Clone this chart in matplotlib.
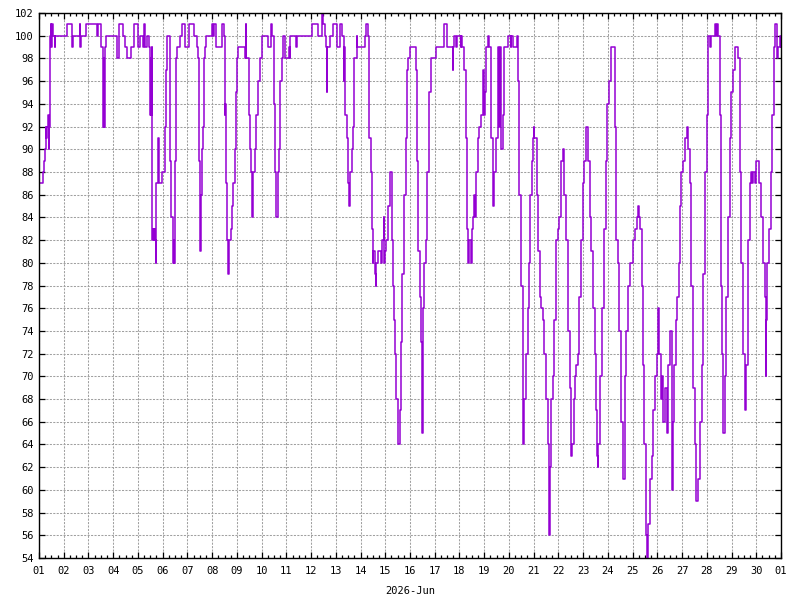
import matplotlib
matplotlib.use('Agg')
import matplotlib.pyplot as plt
from matplotlib.ticker import MultipleLocator, FixedLocator

# time in days since 2026-06-01 00:00, relative humidity (%)
t_days = [
    0.00, 0.17, 0.21, 0.24, 0.27, 0.30, 0.33, 0.36, 0.39, 0.42, 0.45, 0.48, 0.50, 0.52, 0.58, 0.63, 0.66,
    1.12, 1.32, 1.35, 1.37, 1.64, 1.67, 1.70, 1.91,
    2.33, 2.39, 2.49, 2.59, 2.62, 2.64, 2.66, 2.69,
    3.16, 3.23, 3.40, 3.46, 3.56, 3.72, 3.83, 3.86, 3.99,
    4.10, 4.20, 4.23, 4.26, 4.30, 4.37, 4.44, 4.48, 4.51, 4.53, 4.55, 4.57, 4.60, 4.63, 4.66, 4.70, 4.73,
    4.75, 4.80, 4.86, 4.97,
    5.08, 5.12, 5.15, 5.17, 5.28, 5.31, 5.35, 5.40, 5.43, 5.45, 5.46, 5.48, 5.52, 5.58, 5.69, 5.79, 5.89, 5.92,
    6.06, 6.28, 6.37, 6.41, 6.46, 6.50, 6.52, 6.53, 6.54, 6.60, 6.64, 6.68, 6.73, 6.77,
    7.00, 7.05, 7.07, 7.17, 7.38, 7.47, 7.51, 7.54, 7.58, 7.62, 7.66, 7.70, 7.75, 7.80, 7.86, 7.91, 7.95,
    8.01, 8.05, 8.34, 8.37, 8.38, 8.51, 8.55, 8.58, 8.61, 8.66, 8.72, 8.78, 8.85, 8.92,
    9.01, 9.25, 9.39, 9.43, 9.49, 9.55, 9.59, 9.65, 9.72, 9.76, 9.82, 9.87, 9.95,
    10.12, 10.14, 10.16, 10.39, 10.43,
    11.02, 11.29, 11.46, 11.50, 11.56, 11.61, 11.63, 11.65, 11.75, 11.88,
    12.05, 12.19, 12.26, 12.32, 12.34, 12.36, 12.39, 12.46, 12.50, 12.55, 12.59, 12.64, 12.69, 12.72,
    12.84, 12.86,
    13.18, 13.24, 13.30, 13.36, 13.41, 13.47, 13.49, 13.51, 13.58, 13.61, 13.64, 13.72, 13.81, 13.88,
    13.93, 13.95,
    14.00, 14.04, 14.12, 14.18, 14.26, 14.32, 14.35, 14.39, 14.45, 14.50, 14.58, 14.64, 14.69, 14.76,
    14.82, 14.88, 14.93, 14.99,
    15.23, 15.30, 15.34, 15.39, 15.45, 15.48, 15.50, 15.53, 15.57, 15.64, 15.70, 15.77, 15.84,
    16.04, 16.38, 16.51, 16.72, 16.75, 16.78, 16.85, 16.92,
    17.05, 17.08, 17.12, 17.19, 17.26, 17.31, 17.35, 17.39, 17.46, 17.50, 17.53, 17.57, 17.61, 17.66,
    17.73, 17.80, 17.86, 17.97, 17.99,
    18.03, 18.07, 18.14, 18.20, 18.27, 18.34, 18.37, 18.39, 18.41, 18.47, 18.54, 18.57, 18.59, 18.61,
    18.65, 18.66, 18.68, 18.74, 18.81, 18.95,
    19.08, 19.10, 19.15, 19.32, 19.38, 19.42, 19.49, 19.55, 19.58, 19.60, 19.69, 19.76, 19.80, 19.86,
    19.92, 19.97,
    20.00, 20.03, 20.14, 20.19, 20.24, 20.30, 20.36, 20.43, 20.50, 20.57, 20.61, 20.63, 20.65, 20.70,
    20.77, 20.84, 20.91, 20.97,
    21.04, 21.11, 21.18, 21.24, 21.31, 21.38, 21.45, 21.49, 21.51, 21.54, 21.62, 21.68, 21.72, 21.78,
    21.85, 21.92, 21.99,
    22.05, 22.12, 22.19, 22.26, 22.32, 22.39, 22.46, 22.53, 22.57, 22.59, 22.62, 22.70, 22.77, 22.84,
    22.91, 22.97,
    23.03, 23.11, 23.27, 23.34, 23.41, 23.47, 23.54, 23.61, 23.68, 23.74, 23.81, 23.88, 23.97,
    24.03, 24.10, 24.17, 24.22, 24.24, 24.30, 24.37, 24.44, 24.48, 24.53, 24.57, 24.64, 24.70, 24.77,
    24.84, 24.91, 24.97,
    25.04, 25.08, 25.13, 25.19, 25.24, 25.31, 25.38, 25.44, 25.51, 25.58, 25.62, 25.67, 25.75, 25.81,
    25.86, 25.91, 25.97,
    26.05, 26.11, 26.18, 26.26, 26.32, 26.38, 26.45, 26.52, 26.58, 26.65, 26.72, 26.79, 26.85, 26.92,
    26.99,
    27.05, 27.12, 27.19, 27.32, 27.38, 27.40, 27.46, 27.52, 27.56, 27.60, 27.66, 27.72, 27.79, 27.86,
    27.93, 27.99,
    28.06, 28.13, 28.26, 28.33, 28.40, 28.46, 28.53, 28.60, 28.66, 28.73, 28.80, 28.84, 28.87, 28.93,
    29.00, 29.13, 29.20, 29.27, 29.34, 29.38, 29.40, 29.44, 29.51, 29.58, 29.64, 29.70, 29.77, 29.83,
    29.89, 29.95, 30.00,
]
rh_pct = [
    87, 88, 89, 90, 92, 91, 92, 93, 90, 92, 100, 101, 99, 101, 100, 99, 100,
    101, 100, 99, 100, 101, 99, 100, 101,
    100, 101, 99, 92, 98, 92, 99, 100,
    98, 101, 100, 99, 98, 99, 100, 101, 99,
    100, 99, 100, 101, 99, 100, 99, 93, 98, 93, 99, 82, 83, 82, 83, 82, 80,
    87, 91, 87, 88,
    92, 95, 97, 100, 99, 89, 84, 82, 80, 82, 80, 89, 98, 99, 100, 101, 100, 99,
    101, 100, 99, 98, 89, 83, 81, 83, 86, 90, 92, 98, 99, 100,
    101, 100, 101, 99, 101, 100, 93, 94, 87, 82, 79, 82, 83, 85, 87, 90, 95,
    98, 99, 98, 101, 98, 93, 90, 88, 84, 88, 90, 93, 96, 98,
    100, 99, 101, 100, 94, 88, 84, 88, 90, 96, 98, 100, 98,
    99, 98, 100, 99, 100,
    101, 100, 102, 101, 100, 99, 95, 99, 100, 101,
    99, 101, 100, 96, 99, 94, 93, 91, 87, 85, 88, 90, 92, 98,
    100, 99,
    100, 101, 100, 91, 88, 83, 80, 81, 79, 78, 80, 81, 80, 82,
    84, 80,
    81, 82, 85, 88, 82, 78, 75, 72, 68, 64, 67, 73, 79, 86,
    91, 97, 98, 99,
    97, 89, 81, 77, 73, 68, 65, 76, 80, 82, 88, 95, 98,
    99, 101, 99, 97, 99, 100, 99, 100,
    99, 100, 99, 97, 91, 83, 80, 82, 80, 83, 84, 86, 84, 88,
    91, 92, 93, 97, 93,
    95, 99, 100, 99, 91, 87, 85, 87, 88, 91, 96, 99, 96, 92,
    99, 92, 90, 93, 99, 100,
    99, 100, 99, 100, 96, 86, 78, 70, 64, 68, 72, 76, 80, 86,
    89, 91,
    92, 91, 86, 81, 77, 76, 75, 72, 68, 64, 57, 56, 62, 68,
    70, 75, 82, 83,
    84, 89, 90, 86, 82, 74, 69, 64, 63, 64, 68, 70, 71, 72,
    77, 82, 87,
    89, 92, 89, 84, 81, 76, 72, 67, 63, 62, 64, 70, 76, 83,
    89, 94,
    96, 99, 92, 82, 80, 74, 66, 61, 70, 74, 78, 80, 80,
    82, 83, 84, 85, 84, 83, 78, 71, 64, 56, 54, 57, 61, 63,
    67, 70, 72,
    76, 72, 68, 70, 66, 69, 65, 71, 74, 60, 66, 71, 75, 77,
    80, 85, 88,
    89, 91, 92, 90, 87, 78, 69, 64, 59, 61, 66, 71, 79, 88,
    93,
    100, 99, 100, 101, 100, 101, 100, 93, 78, 72, 65, 70, 77, 84,
    91, 95,
    97, 99, 98, 88, 80, 72, 67, 71, 82, 87, 88, 87, 88, 87,
    89, 87, 84, 80, 77, 70, 75, 80, 83, 88, 93, 99, 101, 98,
    99, 100, 99,
]

day_labels = ['%02d' % d for d in range(1, 31)] + ['01']
y_ticks = list(range(54, 103, 2))

fig = plt.figure(figsize=(8, 6), dpi=100)
ax = fig.add_axes([39 / 800, 42 / 600, 742 / 800, 545 / 600])

ax.plot(t_days, rh_pct, drawstyle='steps-post', color='#9400d3', lw=1.1)

ax.set_xlim(0, 30)
ax.set_ylim(54, 102)

ax.xaxis.set_major_locator(FixedLocator(range(0, 31)))
ax.xaxis.set_minor_locator(MultipleLocator(0.25))
ax.set_xticklabels(day_labels)
ax.yaxis.set_major_locator(FixedLocator(y_ticks))

ax.grid(True, which='major', color='#a0a0a0', lw=0.75, linestyle=(0, (2.0, 1.3)))

ax.tick_params(which='both', direction='in', top=True, right=True, color='black', width=0.9)
ax.tick_params(which='major', length=4.3)
ax.tick_params(which='minor', length=2.2)
ax.tick_params(axis='x', pad=6)
ax.tick_params(axis='y', pad=4)
ax.tick_params(axis='y', which='minor', left=False, right=False)

for lbl in ax.get_xticklabels() + ax.get_yticklabels():
    lbl.set_fontfamily('DejaVu Sans Mono')
    lbl.set_fontsize(7.5)

for s in ax.spines.values():
    s.set_linewidth(1)
    s.set_color('black')

ax.set_xlabel('2026-Jun', fontfamily='DejaVu Sans Mono', fontsize=7.5, labelpad=7)

fig.savefig('out.png', dpi=100)
